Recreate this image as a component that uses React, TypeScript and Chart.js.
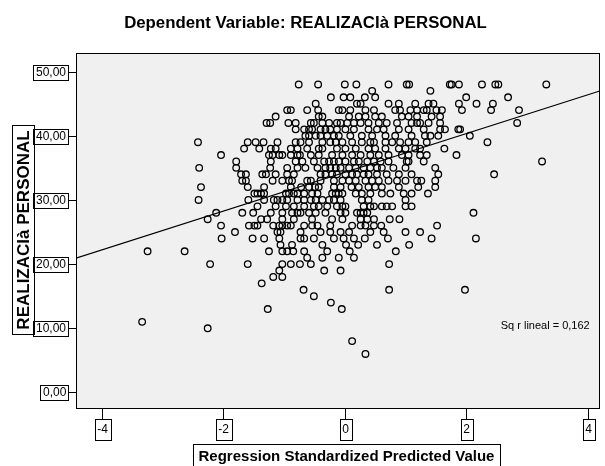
import React, { useEffect, useRef } from "react";
import { Chart, registerables } from "chart.js";

Chart.register(...registerables);

const titleText = "Dependent Variable: REALIZACIà PERSONAL";
const yAxisTitle = "REALIZACIà PERSONAL";
const xAxisTitle = "Regression Standardized Predicted Value";
const fitLabel = "Sq r lineal = 0,162";

const xTicks = [-4, -2, 0, 2, 4];
const xTickLabels = ["-4", "-2", "0", "2", "4"];
const yTicks = [0, 10, 20, 30, 40, 50];
const yTickLabels = ["0,00", "10,00", "20,00", "30,00", "40,00", "50,00"];

const xMin = -4.43;
const xMax = 4.2;
const yMin = -2.58;
const yMax = 52.9;

const fitIntercept = 34.3;
const fitSlope = 3.02;

// Standardized predicted values of the cases, grouped by their REALIZACIà PERSONAL score
const x48 = [-0.76, -0.44, 0.0, 0.19, 0.72, 1.02, 1.06, 1.73, 1.76, 1.88, 2.26, 2.48, 2.53, 3.32];
const x47 = [0.45, 1.41];
const x46 = [-0.23, -0.02, 0.09, 0.33, 0.5, 2.0, 2.69];
const x45 = [-0.48, 0.2, 0.26, 0.72, 0.89, 1.16, 1.38, 1.46, 1.88, 2.17, 2.44];
const x44 = [-0.95, -0.89, -0.62, -0.44, -0.1, -0.04, 0.09, 0.34, 0.48, 0.83, 0.91, 1.08, 1.19, 1.3, 1.35, 1.51, 1.6, 1.93, 2.41, 2.87];
const x43 = [-1.14, -0.43, -0.37, 0.07, 0.23, 0.34, 0.5, 0.61, 0.94, 1.05, 1.19, 1.43, 1.57];
const x42 = [-1.29, -1.23, -0.93, -0.81, -0.56, -0.51, -0.37, -0.26, -0.13, -0.07, 0.04, 0.15, 0.26, 0.39, 0.56, 0.69, 0.86, 1.1, 1.19, 1.24, 1.38, 1.57, 2.84];
const x41 = [-0.81, -0.67, -0.59, -0.54, -0.4, -0.32, -0.24, -0.13, 0.01, 0.15, 0.39, 0.53, 0.64, 0.89, 1.05, 1.3, 1.57, 1.65, 1.87, 1.9];
const x40 = [-0.65, -0.59, -0.48, -0.4, -0.29, -0.18, -0.1, 0.09, 0.28, 0.45, 0.67, 0.83, 1.1, 1.32, 1.41, 1.54, 2.06];
const x39 = [-2.42, -1.6, -1.47, -1.34, -1.11, -0.81, -0.73, -0.59, -0.37, -0.24, -0.15, -0.04, 0.12, 0.28, 0.42, 0.48, 0.67, 0.78, 0.91, 1.05, 1.16, 1.35, 2.35];
const x38 = [-1.66, -1.41, -1.22, -1.14, -0.89, -0.78, -0.62, -0.43, -0.37, -0.13, 0.01, 0.18, 0.39, 0.5, 0.67, 0.89, 1.0, 1.16, 1.24, 1.64];
const x37 = [-2.04, -1.25, -1.19, -1.08, -1.03, -0.89, -0.78, -0.74, -0.56, -0.43, -0.21, -0.04, 0.12, 0.26, 0.42, 0.56, 0.72, 0.94, 1.05, 1.24, 1.35, 1.84];
const x36 = [-1.79, -1.22, -0.81, -0.7, -0.51, -0.34, -0.26, -0.18, -0.1, 0.01, 0.15, 0.23, 0.37, 0.48, 0.59, 0.72, 1.02, 1.05, 1.3, 3.25];
const x35 = [-2.4, -1.79, -1.23, -0.95, -0.78, -0.65, -0.45, -0.32, -0.24, -0.15, -0.07, 0.07, 0.18, 0.31, 0.42, 0.53, 0.61, 0.8, 1.0, 1.49];
const x34 = [-1.71, -1.63, -1.36, -1.3, -1.14, -0.95, -0.84, -0.4, -0.32, -0.21, -0.13, 0.01, 0.12, 0.2, 0.31, 0.39, 0.53, 0.69, 0.89, 1.1, 1.54, 2.46];
const x33 = [-1.69, -1.63, -1.19, -1.03, -0.92, -0.87, -0.62, -0.56, -0.4, -0.18, -0.04, 0.07, 0.18, 0.34, 0.45, 0.56, 0.72, 0.86, 1.0, 1.19, 1.26, 1.49];
const x32 = [-2.37, -1.6, -1.33, -0.89, -0.72, -0.59, -0.49, -0.43, -0.18, -0.07, 0.11, 0.23, 0.39, 0.5, 0.61, 0.89, 1.21, 1.49];
const x31 = [-1.49, -1.44, -1.38, -1.33, -0.97, -0.92, -0.84, -0.78, -0.67, -0.54, -0.45, -0.21, -0.15, -0.1, -0.04, 0.18, 0.28, 0.42, 0.61, 0.75, 0.97, 1.1, 1.37];
const x30 = [-2.41, -1.59, -1.33, -1.17, -1.11, -1.03, -0.95, -0.78, -0.67, -0.56, -0.48, -0.37, -0.26, -0.18, -0.07, 0.28, 0.39, 1.0];
const x29 = [-1.44, -1.14, -0.97, -0.84, -0.67, -0.51, -0.43, -0.29, -0.13, -0.04, 0.01, 0.31, 0.42, 0.48, 0.61, 0.69, 0.78, 1.0, 1.1];
const x28 = [-2.12, -1.69, -1.51, -1.22, -1.03, -0.87, -0.78, -0.73, -0.59, -0.48, -0.32, -0.07, 0.01, 0.2, 0.26, 0.31, 0.37, 2.12];
const x27 = [-2.26, -1.38, -1.28, -1.03, -0.84, -0.54, -0.21, -0.04, 0.26, 0.37, 0.48, 0.74, 0.9];
const x26 = [-2.04, -1.58, -1.49, -1.44, -1.18, -1.08, -1.03, -0.95, -0.89, -0.67, -0.54, -0.45, -0.24, 0.12, 0.26, 0.34, 0.48, 0.6, 1.52];
const x25 = [-1.81, -1.11, -1.06, -0.73, -0.4, -0.24, -0.07, 0.07, 0.42, 0.64, 1.0, 1.24];
const x24 = [-2.03, -1.52, -1.33, -1.08, -0.73, -0.67, -0.51, -0.18, -0.02, 0.15, 0.33, 0.71, 1.43, 2.16];
const x23 = [-1.06, -0.87, -0.37, 0.02, 0.22, 0.53, 1.06];
const x22 = [-3.25, -2.64, -1.25, -1.03, -0.95, -0.85, -0.67, -0.29, 0.08, 0.84];
const x21 = [-0.62, -0.37, -0.1, 0.15];
const x20 = [-2.22, -1.6, -1.03, -0.89, -0.74, -0.56, 0.73];
const x19 = [-1.08, -0.34, -0.07];
const x18 = [-1.18, -1.03];
const x17 = [-1.37];
const x16 = [-0.68, 0.73, 1.98];
const x15 = [-0.51];
const x14 = [-0.23];
const x13 = [-1.27, -0.05];
const x11 = [-3.34];
const x10 = [-2.26];
const x8 = [0.12];
const x6 = [0.34];

const scoreRows: [number, number[]][] = [
  [48, x48], [47, x47], [46, x46], [45, x45], [44, x44], [43, x43], [42, x42],
  [41, x41], [40, x40], [39, x39], [38, x38], [37, x37], [36, x36], [35, x35],
  [34, x34], [33, x33], [32, x32], [31, x31], [30, x30], [29, x29], [28, x28],
  [27, x27], [26, x26], [25, x25], [24, x24], [23, x23], [22, x22], [21, x21],
  [20, x20], [19, x19], [18, x18], [17, x17], [16, x16], [15, x15], [14, x14],
  [13, x13], [11, x11], [10, x10], [8, x8], [6, x6],
];

const FONT = "'Liberation Sans', Arial, sans-serif";

const spssDecor = {
  id: "spssDecor",
  beforeDraw(chart: any) {
    const { ctx, chartArea: a, width, height } = chart;
    ctx.save();
    ctx.fillStyle = "#ffffff";
    ctx.fillRect(0, 0, width, height);
    ctx.fillStyle = "#f0f0f0";
    ctx.fillRect(a.left, a.top, a.right - a.left, a.bottom - a.top);
    ctx.restore();
  },
  afterDraw(chart: any) {
    const { ctx, chartArea: a, scales } = chart;
    const xs = scales.x;
    const ys = scales.y;
    ctx.save();
    ctx.strokeStyle = "#000";
    ctx.fillStyle = "#000";
    ctx.lineWidth = 1;
    ctx.strokeRect(Math.round(a.left) + 0.5, Math.round(a.top) + 0.5, Math.round(a.right - a.left) - 1, Math.round(a.bottom - a.top) - 1);

    ctx.font = "12px " + FONT;
    ctx.textBaseline = "middle";
    ctx.textAlign = "left";
    yTicks.forEach((v, i) => {
      const y = Math.round(ys.getPixelForValue(v)) + 0.5;
      const label = yTickLabels[i];
      const w = ctx.measureText(label).width;
      const boxR = Math.round(a.left) - 8;
      const boxW = Math.round(w + 5);
      const boxL = boxR - boxW;
      ctx.beginPath();
      ctx.moveTo(boxR, y);
      ctx.lineTo(a.left, y);
      ctx.stroke();
      ctx.strokeRect(boxL + 0.5, Math.round(y - 8) + 0.5, boxW, 15);
      ctx.fillText(label, boxL + 3, y + 0.5);
    });

    ctx.textAlign = "center";
    xTicks.forEach((v, i) => {
      const x = Math.round(xs.getPixelForValue(v)) + 0.5;
      const label = xTickLabels[i];
      const w = ctx.measureText(label).width;
      const top = Math.round(a.bottom) + 10;
      const boxW = Math.round(w + 5);
      ctx.beginPath();
      ctx.moveTo(x, a.bottom);
      ctx.lineTo(x, top);
      ctx.stroke();
      ctx.strokeRect(Math.round(x - boxW / 2) + 0.5, top + 0.5, boxW, 21);
      ctx.fillText(label, x, top + 11);
    });

    ctx.font = "bold 15px " + FONT;
    ctx.strokeRect(193.5, 444.5, 307, 30);
    ctx.textBaseline = "alphabetic";
    ctx.fillText(xAxisTitle, 346.5, 461);

    ctx.strokeRect(12.5, 125.5, 22, 209);
    ctx.save();
    ctx.font = "bold 17px " + FONT;
    ctx.translate(29, 230);
    ctx.rotate(-Math.PI / 2);
    ctx.textAlign = "center";
    ctx.fillText(yAxisTitle, 0, 0);
    ctx.restore();

    ctx.font = "bold 16.8px " + FONT;
    ctx.textAlign = "center";
    ctx.fillText(titleText, 305.5, 28);

    ctx.font = "11px " + FONT;
    ctx.textAlign = "right";
    ctx.textBaseline = "middle";
    ctx.fillText(fitLabel, a.right - 10, 326);
    ctx.restore();
  },
};

export default function App() {
  const canvasRef = useRef<HTMLCanvasElement | null>(null);

  useEffect(() => {
    document.body.style.margin = "0";
    const canvas = canvasRef.current;
    if (!canvas) return;
    const points: { x: number; y: number }[] = [];
    scoreRows.forEach(([score, xsArr]) => {
      xsArr.forEach((xv) => points.push({ x: xv, y: score }));
    });
    const fitLine = [
      { x: xMin, y: fitIntercept + fitSlope * xMin },
      { x: xMax, y: fitIntercept + fitSlope * xMax },
    ];
    const chart = new Chart(canvas, {
      type: "scatter",
      data: {
        datasets: [
          {
            type: "line",
            data: fitLine,
            borderColor: "#000",
            borderWidth: 1.2,
            pointRadius: 0,
            fill: false,
            order: 0,
          } as any,
          {
            data: points,
            pointStyle: "circle",
            pointRadius: 3.3,
            pointBorderWidth: 1.3,
            pointBorderColor: "#000",
            pointBackgroundColor: "rgba(0,0,0,0)",
            borderColor: "#000",
            backgroundColor: "rgba(0,0,0,0)",
            order: 1,
          } as any,
        ],
      },
      options: {
        animation: false,
        responsive: false,
        maintainAspectRatio: false,
        layout: { padding: { left: 76, top: 53, right: 3, bottom: 57 } },
        plugins: { legend: { display: false }, tooltip: { enabled: false }, title: { display: false } },
        events: [],
        scales: {
          x: { type: "linear", min: xMin, max: xMax, display: false },
          y: { type: "linear", min: yMin, max: yMax, display: false },
        },
      },
      plugins: [spssDecor],
    });
    return () => chart.destroy();
  }, []);

  return (
    <div style={{ width: 605, height: 466 }}>
      <canvas ref={canvasRef} width={605} height={466} />
    </div>
  );
}
